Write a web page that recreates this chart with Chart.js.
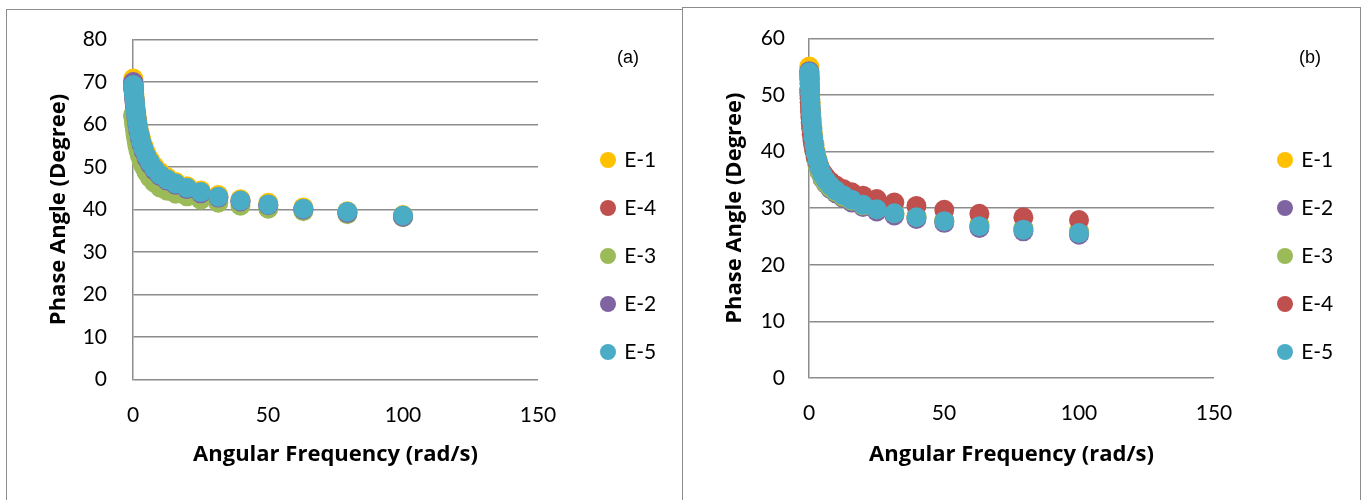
<!DOCTYPE html>
<html>
<head>
<meta charset="utf-8">
<script src="https://cdn.jsdelivr.net/npm/chart.js@4.4.1/dist/chart.umd.min.js"></script>
<style>
  body { margin:0; width:1367px; height:500px; background:#fff; overflow:hidden; position:relative; }
  .panel { position:absolute; border:1.5px solid #8c8c8c; box-sizing:border-box; }
  .tag { position:absolute; font:18px "Liberation Sans", Arial, sans-serif; color:#000; transform:translate(-50%,-50%); }
  canvas { position:absolute; top:0; }
</style>
</head>
<body>
<div class="panel" style="left:6px;top:9px;width:677px;height:520px"></div>
<div class="panel" style="left:682px;top:7px;width:679px;height:520px"></div>
<canvas id="chartA" width="682" height="500" style="left:0"></canvas>
<canvas id="chartB" width="685" height="500" style="left:682px"></canvas>
<div class="tag" style="left:628px;top:57px">(a)</div>
<div class="tag" style="left:1310px;top:57px">(b)</div>

<script>
// Angular frequency (rad/s), same sweep for every sample
const freq = [0.1, 0.126, 0.158, 0.2, 0.251, 0.316, 0.398, 0.501, 0.631, 0.794,
  1, 1.26, 1.58, 2, 2.51, 3.16, 3.98, 5.01, 6.31, 7.94,
  10, 12.6, 15.8, 20, 25.1, 31.6, 39.8, 50.1, 63.1, 79.4, 100];

// (a) phase angle, degrees
const aE1 = [70.8, 70.5, 70.2, 69.8, 69.3, 68.7, 68.0, 67.1, 66.1, 65.0, 63.8, 62.5, 61.1, 59.6, 58.0, 56.4, 54.8, 53.2, 51.7, 50.2, 48.8, 47.6, 46.5, 45.5, 44.5, 43.4, 42.4, 41.6, 40.5, 39.6, 38.7];
const aE4 = [68.8, 68.6, 68.4, 68.1, 67.7, 67.2, 66.6, 65.8, 64.9, 63.9, 62.7, 61.4, 60.0, 58.5, 56.9, 55.3, 53.7, 52.1, 50.6, 49.2, 47.9, 46.8, 45.8, 44.8, 43.8, 42.8, 41.9, 41.0, 40.0, 39.3, 38.4];
const aE3 = [62.3, 62.2, 62.0, 61.8, 61.5, 61.1, 60.6, 60.0, 59.3, 58.5, 57.5, 56.4, 55.2, 54.0, 52.7, 51.4, 50.1, 48.8, 47.5, 46.3, 45.2, 44.4, 43.7, 43.1, 42.3, 41.6, 40.9, 40.2, 39.6, 38.9, 38.2];
const aE2 = [70.0, 69.8, 69.5, 69.1, 68.6, 68.0, 67.3, 66.4, 65.4, 64.3, 63.0, 61.6, 60.1, 58.5, 56.9, 55.3, 53.7, 52.1, 50.6, 49.2, 47.9, 46.8, 45.8, 44.8, 43.8, 42.8, 41.9, 41.0, 40.0, 39.2, 38.3];
const aE5 = [69.3, 69.1, 68.9, 68.6, 68.2, 67.7, 67.1, 66.3, 65.4, 64.4, 63.2, 61.9, 60.5, 59.0, 57.4, 55.8, 54.2, 52.6, 51.1, 49.6, 48.2, 47.1, 46.1, 45.1, 44.1, 43.0, 42.1, 41.2, 40.2, 39.5, 38.6];

// (b) phase angle, degrees
const bE1 = [55.0, 54.6, 54.2, 53.6, 52.9, 52.0, 51.0, 49.9, 48.6, 47.2, 45.8, 44.3, 42.9, 41.4, 40.0, 38.6, 37.3, 36.1, 35.0, 34.1, 33.2, 32.4, 31.6, 30.8, 30.0, 29.3, 28.6, 27.9, 27.1, 26.5, 26.0];
const bE2 = [54.2, 53.8, 53.3, 52.7, 51.9, 51.0, 49.9, 48.7, 47.4, 46.0, 44.6, 43.2, 41.8, 40.4, 39.0, 37.7, 36.4, 35.2, 34.3, 33.4, 32.6, 31.8, 31.0, 30.2, 29.4, 28.7, 28.1, 27.4, 26.5, 25.9, 25.3];
const bE3 = [53.5, 53.1, 52.7, 52.1, 51.4, 50.5, 49.5, 48.4, 47.1, 45.8, 44.4, 43.0, 41.6, 40.2, 38.9, 37.6, 36.4, 35.3, 34.4, 33.6, 32.8, 32.0, 31.3, 30.5, 29.8, 29.1, 28.5, 27.8, 27.0, 26.4, 25.9];
const bE4 = [51.0, 50.5, 50.0, 49.4, 48.7, 47.9, 47.0, 46.1, 45.1, 44.1, 43.1, 42.1, 41.1, 40.1, 39.1, 38.2, 37.2, 36.3, 35.5, 34.7, 34.0, 33.4, 32.8, 32.2, 31.6, 31.0, 30.4, 29.7, 29.0, 28.4, 27.9];
const bE5 = [54.0, 53.7, 53.3, 52.8, 52.1, 51.3, 50.3, 49.2, 48.0, 46.7, 45.3, 43.9, 42.5, 41.1, 39.7, 38.4, 37.1, 35.9, 34.9, 34.0, 33.1, 32.3, 31.5, 30.6, 29.8, 29.1, 28.4, 27.7, 26.8, 26.2, 25.6];

const colors = { 'E-1':'#FFC000', 'E-2':'#8064A2', 'E-3':'#9BBB59', 'E-4':'#C0504D', 'E-5':'#4BACC6' };

const xTitle = 'Angular Frequency (rad/s)';
const yTitle = 'Phase Angle (Degree)';
const gridColor = '#8c8c8c';
const titleFont = { family: '"Open Sans"', size: 22, weight: 'bold' };
const tickFont = { family: 'Lato', size: 21 };

function series(name, values){
  return {
    label: name,
    data: values.map((v, i) => ({ x: freq[i], y: v })),
    backgroundColor: colors[name],
    borderColor: colors[name],
    borderWidth: 0,
    pointRadius: 10,
    pointHoverRadius: 10,
    showLine: false,
    clip: false
  };
}

// g = wanted plot box / legend spot in canvas pixels
function makeChart(id, datasets, yMax, g){
  const H = 500;
  const fs = 21, pad = 27, box = 11.3;
  const canvas = document.getElementById(id);
  const legendLeft = g.markerX - pad - box / 2;
  const sumTB = 2 * (g.firstItemY - fs / 2) - pad + 5 * (fs + pad);
  const padTop = g.top;
  const padBottom = H - (sumTB - padTop);
  const xAxisH = H - padBottom - g.bottom;
  const titleLH = titleFont.size * 1.2;

  const chart = new Chart(canvas, {
    type: 'scatter',
    data: { datasets: datasets },
    options: {
      responsive: false,
      animation: false,
      layout: { padding: { left: 0, top: padTop, bottom: padBottom, right: 0 } },
      plugins: {
        tooltip: { enabled: false },
        legend: {
          position: 'right',
          reverse: true,
          labels: {
            usePointStyle: true, pointStyle: 'circle',
            boxWidth: box, boxHeight: box, padding: pad,
            color: '#000', font: { family: 'Lato', size: fs }
          }
        }
      },
      scales: {
        x: {
          type: 'linear', position: 'bottom', min: 0, max: 150,
          ticks: { stepSize: 50, padding: g.xTickPad, color: '#000', font: tickFont },
          grid: { display: false, drawTicks: false },
          border: { display: false },
          title: { display: true, text: xTitle, color: '#000', font: titleFont,
                   padding: { top: 0, bottom: g.xTitleY - titleLH / 2 } },
          afterFit: s => { s.height = xAxisH; }
        },
        y: {
          position: 'left', min: 0, max: yMax,
          ticks: { stepSize: 10, padding: g.yTickPad, color: '#000', font: tickFont },
          grid: { color: gridColor, lineWidth: 1.5, drawTicks: false },
          border: { display: true, color: gridColor, width: 1.5 },
          title: { display: true, text: yTitle, color: '#000', font: titleFont,
                   padding: { top: g.yTitleX - titleLH / 2, bottom: 0 } },
          afterFit: s => { s.width = g.left; }
        },
        gap: {
          type: 'linear', position: 'right', display: true,
          ticks: { display: false }, grid: { display: false }, border: { display: false },
          afterFit: s => { s.width = legendLeft - g.right; }
        }
      }
    }
  });

  // legend width is only known after the first layout: push it to its spot
  chart.options.layout.padding.right = g.width - legendLeft - chart.legend.width;
  chart.update();
  return chart;
}

// (a): legend order E-1, E-4, E-3, E-2, E-5 (E-5 drawn on top)
makeChart('chartA',
  [series('E-5', aE5), series('E-2', aE2), series('E-3', aE3), series('E-4', aE4), series('E-1', aE1)],
  80,
  { width: 682, left: 133, right: 538, top: 39.5, bottom: 379.5, markerX: 608, firstItemY: 160,
    xTickPad: 22.9, yTickPad: 26, xTitleY: 17.5, yTitleX: 59 });

// (b): legend order E-1 .. E-5
makeChart('chartB',
  [series('E-5', bE5), series('E-4', bE4), series('E-3', bE3), series('E-2', bE2), series('E-1', bE1)],
  60,
  { width: 685, left: 127, right: 532, top: 38.3, bottom: 378, markerX: 603, firstItemY: 160,
    xTickPad: 22.7, yTickPad: 24, xTitleY: 18.7, yTitleX: 53 });
</script>
</body>
</html>
